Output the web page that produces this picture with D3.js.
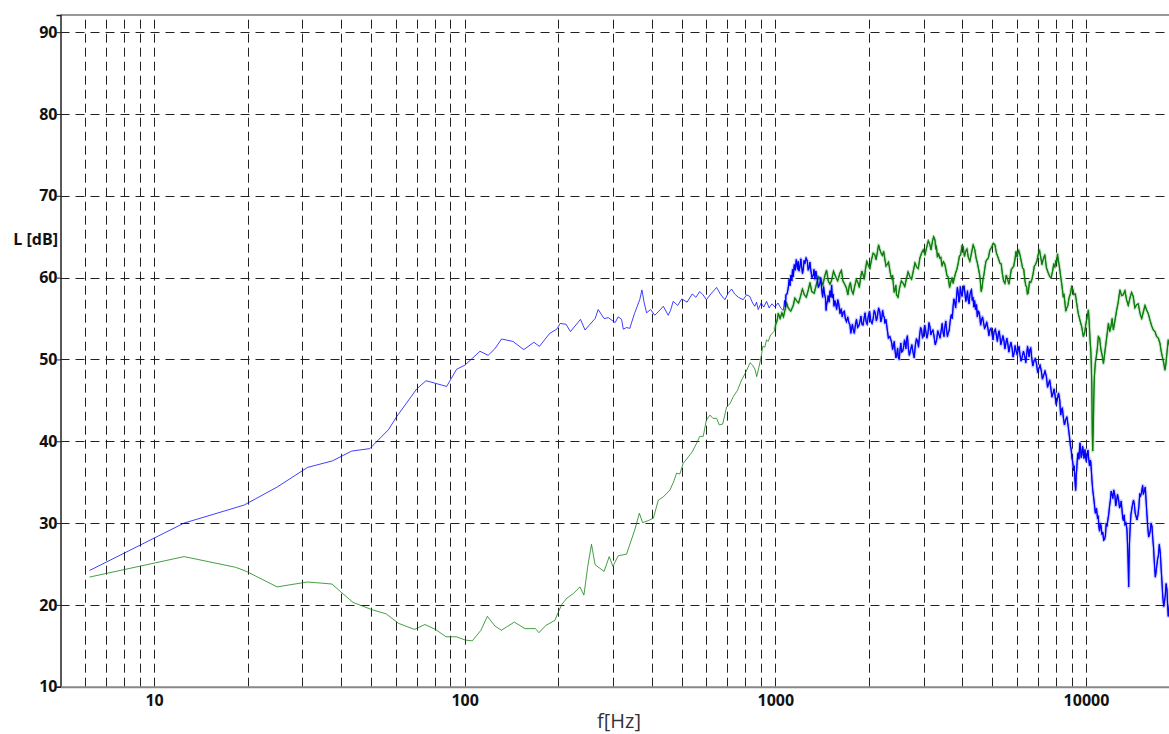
<!DOCTYPE html>
<html><head><meta charset="utf-8">
<script src="https://cdn.jsdelivr.net/npm/d3@7"></script>
<style>
html,body{margin:0;padding:0;background:#fff;overflow:hidden}
svg{display:block}
text{font-family:"Open Sans",Arial,sans-serif}
</style></head><body>
<svg id="c" width="1169" height="734"></svg>
<script>
// ---------- data ----------
const yTicks = [10,20,30,40,50,60,70,80,90];
const xTickLabels = [10,100,1000,10000];
const xGrid = [6,7,8,9,10,20,30,40,50,60,70,80,90,100,200,300,400,500,600,700,800,900,1000,2000,3000,4000,5000,6000,7000,8000,9000,10000,20000];
const yLabel = "L [dB]";
const xLabel = "f[Hz]";

// series 1 (blue): [frequency Hz, level dB]
const blue = [[6.2,24.2],[12.5,30.0],[19.5,32.2],[24.9,34.4],[31.2,36.8],[37.5,37.6],[43.3,38.8],[49.5,39.1],[56.8,41.4],[60.4,43.0],[70.1,46.4],[75.1,47.4],[87.5,46.7],[94.2,48.8],[100.2,49.3],[112,51.0],[119,50.5],[125,51.3],[131.5,52.5],[143,52.2],[155,51.2],[167,52.1],[174,51.6],[188,53.2],[198,53.7],[203,54.4],[212,54.3],[219,53.4],[236,54.9],[244,53.6],[263,55.0],[269,56.1],[281,55.0],[290,55.1],[305,54.5],[312,55.2],[320,54.9],[324,53.7],[332,53.9],[340,53.8],[352,55.6],[366,57.3],[372,58.5],[378,57.0],[385,55.7],[397,56.1],[409,55.4],[422,55.9],[436,56.5],[452,55.4],[460,56.0],[469,57.1],[485,56.6],[500,57.4],[520,57.0],[540,58.0],[555,57.6],[571,58.3],[585,57.9],[600,57.3],[620,58.0],[647,58.8],[665,58.0],[688,57.3],[705,58.1],[723,58.6],[740,58.0],[760,57.6],[788,57.3],[808,57.9],[828,57.7],[845,56.9],[859,56.5],[870,57.0],[881,56.1],[900,56.9],[918,56.4],[937,57.1],[955,56.3],[975,56.8],[997,56.4],[1020,56.9],[1040,56.3],[1060,56.0],
[1072,57.2],[1077,56.4],[1082,57.9],[1091,58.0],[1100,58.7],[1108,59.8],[1115,59.0],[1122,60.3],[1130,59.6],[1136,61.0],[1142,60.1],[1151,61.6],[1160,60.9],[1168,62.2],[1175,61.5],[1180,61.0],[1185,62.0],[1192,60.8],[1200,61.3],[1208,62.3],[1216,61.3],[1223,60.5],[1230,61.0],[1238,62.1],[1245,61.7],[1256,62.4],[1268,62.0],[1276,60.9],[1285,61.2],[1292,61.9],[1300,61.0],[1312,60.0],[1325,60.3],[1332,61.0],[1340,59.8],[1350,60.8],[1360,60.2],[1376,58.8],[1392,59.3],[1400,60.0],[1410,58.6],[1420,57.6],[1430,58.9],[1440,58.0],[1450,57.5],[1457,56.0],[1463,56.7],[1472,57.2],[1480,57.8],[1490,57.0],[1500,58.4],[1509,57.6],[1518,59.1],[1526,57.5],[1535,58.0],[1545,56.5],[1555,57.2],[1565,56.8],[1575,56.1],[1588,57.3],[1600,56.8],[1615,55.6],[1630,56.2],[1642,55.2],[1655,55.8],[1668,55.9],[1680,55.0],[1695,54.6],[1710,55.2],[1725,54.5],[1739,54.2],[1750,53.2],[1760,53.8],[1771,54.3],[1782,53.6],[1796,53.2],[1810,54.2],[1825,54.9],[1840,53.9],[1856,54.1],[1872,54.6],[1886,55.3],[1900,54.3],[1915,54.2],[1930,55.0],[1945,55.7],[1960,54.6],[1975,54.3],[1990,55.2],[2010,55.9],[2030,54.7],[2048,54.4],[2065,55.0],[2082,56.0],[2100,55.6],[2115,54.7],[2130,55.2],[2150,56.3],[2170,55.8],[2185,54.6],[2200,55.0],[2215,56.0],[2230,55.3],[2242,55.2],[2253,54.4],[2270,54.9],[2290,53.8],[2312,52.6],[2337,52.8],[2355,52.4],[2370,52.0],[2385,51.2],[2397,51.6],[2415,52.2],[2430,51.0],[2445,50.2],[2460,50.6],[2475,51.4],[2487,50.3],[2505,50.0],[2520,51.2],[2535,52.0],[2550,50.9],[2570,51.0],[2590,51.6],[2605,52.4],[2620,51.9],[2632,51.3],[2645,52.4],[2662,52.9],[2680,51.4],[2700,50.5],[2720,51.0],[2750,51.8],[2777,50.8],[2800,50.2],[2820,51.6],[2845,52.5],[2870,52.3],[2890,51.5],[2910,52.8],[2935,53.9],[2956,53.6],[2978,52.6],[3000,53.0],[3025,54.2],[3050,53.5],[3075,52.6],[3100,53.2],[3122,54.5],[3145,54.0],[3168,53.0],[3190,53.4],[3215,53.6],[3240,52.9],[3272,51.8],[3306,52.4],[3333,53.5],[3360,53.1],[3390,52.6],[3420,53.6],[3445,54.4],[3470,53.2],[3492,52.8],[3514,54.0],[3537,54.7],[3560,53.6],[3580,52.8],[3600,53.2],[3625,53.5],[3650,54.5],[3670,55.2],[3690,55.5],[3712,55.0],[3735,56.5],[3757,57.4],[3780,57.0],[3805,56.3],[3830,57.6],[3855,58.8],[3878,58.1],[3900,57.0],[3920,57.4],[3940,58.9],[3960,58.3],[3990,57.7],[4025,58.7],[4050,59.0],[4080,58.0],[4105,57.1],[4130,57.6],[4155,58.4],[4177,57.3],[4205,56.8],[4230,57.9],[4255,58.3],[4280,58.5],[4305,57.2],[4330,57.6],[4355,56.4],[4380,57.2],[4410,56.1],[4442,56.7],[4470,55.2],[4500,55.9],[4525,55.8],[4550,55.3],[4580,54.2],[4610,54.8],[4645,55.2],[4680,54.5],[4715,53.8],[4750,54.0],[4790,54.6],[4830,53.9],[4870,52.9],[4906,53.6],[4945,53.8],[4980,53.2],[5020,52.4],[5060,53.4],[5105,53.7],[5150,52.9],[5185,52.2],[5220,53.1],[5250,53.5],[5285,52.8],[5320,51.8],[5360,52.3],[5400,52.9],[5440,52.4],[5480,51.3],[5520,51.9],[5560,52.6],[5600,52.0],[5645,50.9],[5689,51.6],[5735,52.1],[5780,51.4],[5825,50.3],[5870,50.8],[5915,51.7],[5960,51.0],[6005,50.6],[6053,51.2],[6090,51.6],[6130,50.6],[6180,49.8],[6230,50.3],[6290,51.0],[6358,50.3],[6400,49.6],[6450,50.8],[6485,51.6],[6520,51.0],[6560,50.3],[6596,51.2],[6640,51.4],[6680,50.4],[6740,49.2],[6800,49.8],[6865,50.1],[6929,49.5],[6990,48.4],[7050,48.9],[7115,49.3],[7180,48.6],[7240,47.6],[7300,48.0],[7380,48.6],[7459,47.9],[7520,46.6],[7580,47.0],[7640,47.5],[7700,46.6],[7770,45.4],[7837,45.9],[7895,46.4],[7950,45.6],[8015,44.5],[8080,45.1],[8160,45.9],[8234,45.0],[8290,43.2],[8340,43.8],[8395,44.1],[8448,43.0],[8525,42.0],[8600,42.6],[8680,43.0],[8766,41.8],[8820,41.0],[8870,40.2],[8915,39.4],[8960,39.0],[9010,38.0],[9060,37.5],[9095,36.9],[9130,36.4],[9165,37.0],[9203,35.7],[9230,34.8],[9260,34.0],[9280,34.5],[9300,35.9],[9330,36.4],[9360,37.3],[9405,38.4],[9450,38.6],[9490,37.8],[9530,39.0],[9565,39.8],[9600,39.3],[9650,38.0],[9700,38.3],[9750,39.4],[9800,38.9],[9850,37.9],[9900,38.5],[9930,39.0],[9960,38.1],[10030,37.5],[10100,38.6],[10150,38.9],[10200,37.9],[10265,37.0],[10330,37.7],[10365,37.4],[10400,36.5],[10425,36.0],[10450,35.3],[10515,34.0],[10580,33.2],[10650,32.2],[10720,31.2],[10810,31.8],[10900,30.5],[10950,30.9],[11000,29.6],[11060,29.0],[11120,30.0],[11185,29.6],[11250,28.6],[11325,28.9],[11400,27.9],[11475,28.0],[11550,28.5],[11620,30.0],[11690,29.6],[11760,30.4],[11830,31.0],[11905,32.0],[11980,32.8],[12055,33.9],[12130,33.5],[12205,33.0],[12280,34.05],[12340,33.7],[12400,33.3],[12460,32.1],[12520,32.4],[12630,33.5],[12740,32.8],[12820,31.9],[12900,32.0],[12980,32.7],[13060,31.6],[13130,30.6],[13200,30.3],[13275,31.0],[13350,29.8],[13450,30.0],[13550,29.2],[13600,27.6],[13650,26.0],[13690,24.0],[13720,22.2],[13760,25.0],[13800,27.5],[13880,29.6],[13950,31.0],[14080,32.0],[14220,32.8],[14310,32.3],[14400,31.2],[14500,30.8],[14590,30.4],[14700,31.0],[14800,32.0],[14890,33.5],[14980,33.3],[15060,33.6],[15140,34.05],[15220,34.6],[15300,33.5],[15410,33.9],[15520,34.4],[15610,32.8],[15700,31.2],[15800,29.6],[15910,28.3],[16000,28.6],[16100,29.0],[16200,30.0],[16310,29.6],[16400,28.2],[16500,27.0],[16610,25.0],[16720,23.4],[16810,24.0],[16900,24.8],[17000,25.6],[17100,26.0],[17220,27.4],[17350,26.3],[17450,24.5],[17550,23.0],[17670,21.0],[17790,19.8],[17900,20.4],[18000,21.2],[18110,22.6],[18230,21.8],[18310,20.0],[18400,18.6],[18500,19.4],[18600,20.4],[18700,19.6],[18800,19.0]];

// series 2 (green): [frequency Hz, level dB]
const green = [[6.2,23.4],[12.5,25.9],[18.3,24.6],[19.8,24.1],[24.9,22.2],[31.2,22.8],[37.4,22.55],[39.9,21.6],[43.7,20.3],[50.4,19.4],[55.9,18.9],[61.2,17.75],[68.9,17.0],[74.5,17.6],[80.5,17.0],[87.1,16.1],[94.1,16.1],[100.4,15.7],[105.8,15.6],[112.8,16.9],[118.3,18.6],[125.3,17.4],[131.3,16.9],[144.5,17.9],[156.3,17.1],[168.9,17.1],[173.4,16.6],[182.7,17.5],[195,18.1],[205,20.0],[213,20.8],[224,21.4],[235,22.2],[242,21.2],[249,24.7],[256,27.4],[263,24.9],[281,24.1],[292,25.9],[300,24.7],[312,26.0],[332,26.2],[353,29.2],[365,31.2],[374,30.05],[390,30.3],[405,30.6],[420,32.8],[436,33.2],[458,34.05],[470,35.0],[481,36.1],[493,36.0],[505,37.3],[525,38.1],[540,38.7],[558,39.75],[571,40.6],[586,40.6],[600,42.6],[616,43.2],[630,42.8],[647,42.8],[660,42.0],[677,42.1],[697,44.2],[715,44.6],[732,45.45],[755,46.2],[779,47.5],[800,48.3],[816,49.0],[829,49.6],[845,49.3],[860,48.8],[871,47.9],[885,49.0],[900,50.3],[911,51.6],[925,51.5],[937,52.4],[949,52.2],[965,53.0],[985,53.3],
[997,53.6],[1003,54.3],[1010,54.6],[1016,55.0],[1022,55.65],[1036,55.0],[1050,55.7],[1062,55.2],[1074,56.05],[1087,56.9],[1100,56.3],[1121,55.9],[1142,56.6],[1156,57.5],[1170,57.2],[1188,56.9],[1205,57.7],[1222,58.6],[1240,57.9],[1258,57.6],[1277,58.5],[1293,59.4],[1310,58.3],[1334,58.1],[1358,59.3],[1379,60.1],[1400,59.7],[1422,59.1],[1445,60.3],[1462,60.9],[1480,59.6],[1499,59.2],[1518,59.7],[1539,60.8],[1560,60.2],[1587,59.6],[1614,60.55],[1632,60.9],[1650,59.6],[1672,59.2],[1695,58.7],[1712,57.9],[1730,59.0],[1745,59.4],[1759,58.5],[1780,58.0],[1800,58.9],[1824,59.8],[1848,59.3],[1864,58.8],[1880,59.9],[1899,60.8],[1918,60.3],[1934,59.8],[1950,61.0],[1970,62.0],[1990,61.55],[2015,61.1],[2040,62.2],[2065,63.0],[2091,62.8],[2110,62.2],[2130,63.1],[2150,64.0],[2170,63.4],[2190,63.0],[2210,62.7],[2232,63.2],[2253,62.2],[2272,61.4],[2290,61.6],[2314,61.9],[2337,60.9],[2354,60.2],[2370,59.9],[2384,60.3],[2397,59.3],[2414,58.2],[2430,58.6],[2443,59.1],[2456,57.9],[2483,57.6],[2510,58.7],[2545,59.6],[2580,59.3],[2610,58.9],[2640,59.8],[2675,60.7],[2711,60.1],[2745,59.8],[2780,60.8],[2815,61.8],[2849,61.3],[2885,61.1],[2920,62.4],[2957,63.0],[2994,63.4],[3032,62.8],[3070,63.7],[3107,64.5],[3145,64.0],[3172,63.4],[3200,64.3],[3232,65.0],[3265,64.6],[3282,63.6],[3300,63.8],[3325,62.5],[3350,63.0],[3380,62.4],[3410,62.5],[3442,61.4],[3474,61.95],[3507,61.7],[3540,61.0],[3570,60.2],[3600,60.1],[3640,58.8],[3680,59.6],[3708,60.0],[3735,59.3],[3768,59.9],[3800,60.5],[3840,61.0],[3878,61.75],[3914,62.6],[3950,62.8],[3988,63.9],[4025,63.8],[4062,62.6],[4100,63.2],[4138,63.5],[4177,62.55],[4228,62.0],[4280,63.0],[4333,64.0],[4387,63.4],[4428,62.4],[4470,61.8],[4513,61.0],[4557,60.1],[4578,59.2],[4600,58.3],[4630,58.8],[4660,59.8],[4696,60.4],[4731,61.3],[4765,62.0],[4800,62.2],[4850,62.4],[4900,63.3],[4966,63.7],[5034,64.2],[5092,64.0],[5150,63.0],[5218,62.4],[5285,61.75],[5332,61.7],[5380,60.5],[5430,59.6],[5482,59.3],[5540,60.3],[5600,59.7],[5650,59.2],[5700,60.1],[5750,61.0],[5800,61.2],[5853,61.4],[5906,62.2],[5953,63.2],[6000,62.5],[6065,63.4],[6128,62.8],[6190,62.0],[6250,61.2],[6305,61.0],[6358,59.7],[6400,59.0],[6440,58.9],[6478,58.0],[6516,58.1],[6578,59.5],[6640,59.4],[6700,59.8],[6762,60.55],[6820,61.4],[6880,61.6],[6948,62.0],[7016,62.8],[7083,63.4],[7150,62.5],[7215,61.6],[7279,62.2],[7370,62.8],[7460,61.2],[7555,60.6],[7651,60.1],[7725,60.0],[7800,60.7],[7870,61.6],[7940,61.3],[7995,62.1],[8050,61.8],[8096,62.9],[8142,62.2],[8220,61.2],[8300,60.0],[8370,59.0],[8448,57.7],[8500,57.9],[8550,57.0],[8610,55.9],[8665,56.25],[8745,56.6],[8830,57.6],[8910,58.0],[8990,58.9],[9070,58.6],[9150,57.9],[9240,58.0],[9330,56.9],[9445,55.6],[9560,54.8],[9685,54.0],[9810,52.8],[9905,53.3],[10000,54.4],[10090,55.2],[10180,56.05],[10225,55.0],[10270,53.6],[10315,52.2],[10360,51.2],[10400,49.5],[10440,47.0],[10480,41.0],[10510,38.8],[10560,42.0],[10600,45.6],[10640,47.9],[10720,49.6],[10800,50.4],[10880,51.4],[10960,52.8],[11065,52.6],[11170,51.2],[11275,50.5],[11380,49.5],[11490,50.8],[11600,52.0],[11705,53.2],[11810,54.4],[11920,53.4],[12030,54.0],[12140,55.0],[12250,53.6],[12400,54.8],[12550,56.0],[12700,57.0],[12860,58.5],[13020,57.8],[13180,57.9],[13345,58.4],[13510,57.3],[13680,56.6],[13850,57.5],[14020,58.2],[14190,57.7],[14370,56.3],[14550,56.7],[14735,56.8],[14920,55.65],[15110,55.0],[15300,55.8],[15485,56.6],[15670,56.05],[15870,55.6],[16070,54.8],[16270,54.1],[16470,53.6],[16675,53.4],[16880,52.8],[17090,52.6],[17300,52.0],[17460,51.0],[17620,50.3],[17785,49.6],[17950,48.7],[18075,49.4],[18200,50.6],[18300,51.5],[18400,52.4],[18550,51.8],[18700,51.0]];

// frequency above which each measurement becomes a dense, noisy band
const blueNoiseFrom = 1072;
const greenNoiseFrom = 997;

// ---------- chart ----------
const W = 1169, H = 734;
const plot = {left: 60.5, top: 15, right: 1179.5, bottom: 686.7};
const svg = d3.select("#c");

const x = d3.scaleLog().domain([5, 20000]).range([plot.left, plot.right]);
const y = d3.scaleLinear().domain([10, 92.1]).range([plot.bottom, plot.top]);

svg.append("defs").append("clipPath").attr("id","clip")
  .append("rect").attr("x",plot.left).attr("y",plot.top)
  .attr("width",plot.right-plot.left).attr("height",plot.bottom-plot.top);

// grid
const grid = svg.append("g");
grid.selectAll("line.v").data(xGrid).join("line")
  .attr("x1",d=>Math.round(x(d))+0.5).attr("x2",d=>Math.round(x(d))+0.5)
  .attr("y1",plot.bottom).attr("y2",plot.top)
  .attr("stroke","#222").attr("stroke-width",1).attr("stroke-dasharray","9,5");
grid.selectAll("line.h").data(yTicks.slice(1)).join("line")
  .attr("x1",plot.left).attr("x2",W)
  .attr("y1",d=>Math.round(y(d))+0.5).attr("y2",d=>Math.round(y(d))+0.5)
  .attr("stroke","#222").attr("stroke-width",1).attr("stroke-dasharray","9,6");

// series
const line = d3.line().x(d=>x(d[0])).y(d=>y(d[1]));
const gSeries = svg.append("g").attr("clip-path","url(#clip)");
function drawSeries(data, color, noiseFrom){
  const noisy = data.filter(d=>d[0] >= noiseFrom);
  gSeries.append("path").datum(noisy).attr("d",line)
    .attr("fill","none").attr("stroke",color).attr("stroke-opacity",0.2)
    .attr("stroke-width",3.5).attr("stroke-linejoin","round");
  gSeries.append("path").datum(data).attr("d",line)
    .attr("fill","none").attr("stroke",color).attr("stroke-opacity",0.75)
    .attr("stroke-width",1).attr("stroke-linejoin","round");
  gSeries.append("path").datum(noisy).attr("d",line)
    .attr("fill","none").attr("stroke",color)
    .attr("stroke-width",1.2).attr("stroke-linejoin","miter");
}
drawSeries(green, "#0a7d0a", greenNoiseFrom);
drawSeries(blue, "#0000ff", blueNoiseFrom);

// frame
svg.append("line").attr("x1",plot.left).attr("x2",W).attr("y1",plot.top).attr("y2",plot.top)
  .attr("stroke","#333").attr("stroke-width",1.2);

// y axis
const yAxis = d3.axisLeft(y).tickValues(yTicks).tickSize(4).tickFormat(d3.format("d"));
const gy = svg.append("g").attr("transform",`translate(${plot.left},0)`).call(yAxis);
gy.select(".domain").attr("stroke","#222").attr("stroke-width",1.5);
gy.selectAll(".tick line").attr("stroke","#222");
gy.selectAll(".tick text").attr("x",-3).attr("font-size",16).attr("font-weight","bold")
  .attr("fill","#111").style("font-family","'Open Sans',Arial,sans-serif");

// x axis
const xAxis = d3.axisBottom(x).tickValues(xTickLabels).tickSize(0).tickPadding(8).tickFormat(d3.format("d"));
const gx = svg.append("g").attr("transform",`translate(0,${plot.bottom})`).call(xAxis);
gx.select(".domain").attr("stroke","#888").attr("stroke-width",2);
gx.selectAll(".tick text").attr("font-size",16).attr("font-weight","bold")
  .attr("fill","#111").style("font-family","'Open Sans',Arial,sans-serif");

// axis titles
svg.append("text").attr("x",58).attr("y",241).attr("text-anchor","end").attr("dominant-baseline","middle")
  .attr("font-size",16).attr("font-weight","bold").attr("fill","#111").text(yLabel);
svg.append("text").attr("x",619).attr("y",728).attr("text-anchor","middle")
  .attr("font-size",20).attr("fill","#333").text(xLabel);
</script>
</body></html>
